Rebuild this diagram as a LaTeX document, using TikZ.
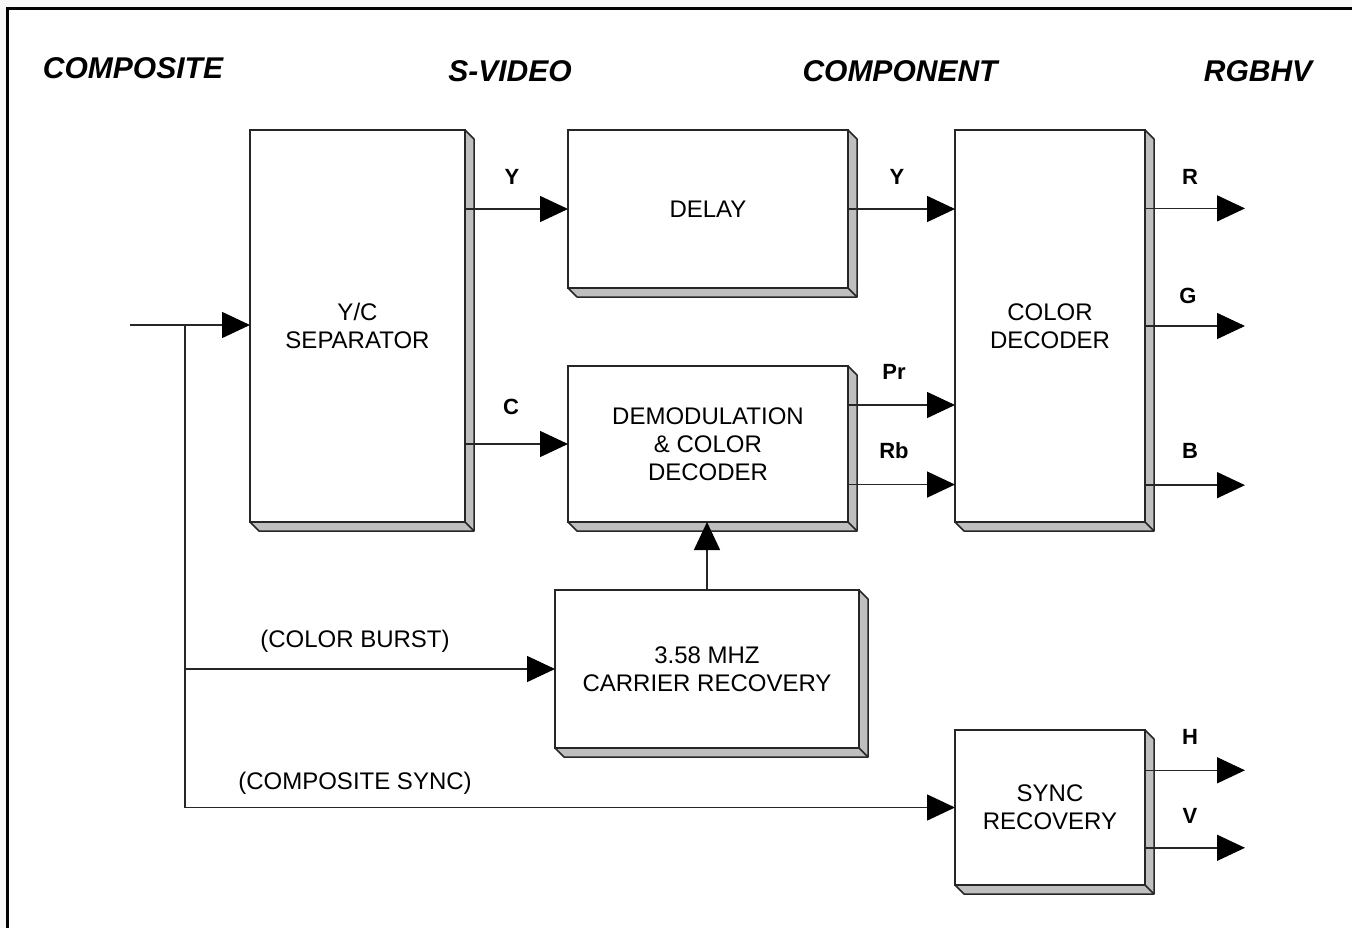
\documentclass[tikz,border=0pt]{standalone}
\usepackage{fontspec}
\setmainfont{Liberation Sans}
\usetikzlibrary{arrows.meta,calc}

% extruded right/bottom face of a block
\newcommand\extrude[1]{%
  \filldraw[face] (#1.north east) -- ++(9,9) -- ($(#1.south east)+(9,9)$)
    -- ($(#1.south west)+(9,9)$) -- (#1.south west) -- (#1.south east) -- cycle;
  \draw[face] (#1.south east) -- ++(9,9);}

\begin{document}
\begin{tikzpicture}[x=1pt,y=-1pt,
    every node/.style={font=\fontsize{24}{28}\selectfont},
    blk/.style={draw=black!85, line width=1.5pt, fill=white, align=center, inner sep=0pt, outer sep=0pt},
    face/.style={draw=black!85, line width=1.5pt, fill=gray!50, line join=round},
    sig/.style={-{Triangle[length=28pt,width=26pt,black]}, line width=1.5pt, draw=black!85},
    wire/.style={line width=1.5pt, draw=black!85},
    lbl/.style={font=\fontsize{22}{26}\selectfont\bfseries},
    head/.style={font=\fontsize{30}{36}\selectfont\bfseries\itshape}]
  \useasboundingbox (0,0) rectangle (1352,928);
  \fill[black!3] (0,0) rectangle (1352,928);
  \filldraw[fill=white, draw=black, line width=3pt] (7,9) rectangle (1370,950);

  % column headings
  \node[head] (hcomp) at (133,68) {COMPOSITE};
  \node[head] (hsvid) at (510,71) {S-VIDEO};
  \node[head] (hcomn) at (900,71) {COMPONENT};
  \node[head] (hrgb) at (1258,71) {RGBHV};

  % blocks
  \node[blk, minimum width=215pt, minimum height=392pt] (sep) at (357.5,326) {Y/C\\SEPARATOR};
  \node[blk, minimum width=280pt, minimum height=158pt] (delay) at (708,209) {DELAY};
  \node[blk, minimum width=280pt, minimum height=156pt] (demod) at (708,444) {DEMODULATION\\\& COLOR\\DECODER};
  \node[blk, minimum width=190pt, minimum height=392pt] (cdec) at (1050,326) {COLOR\\DECODER};
  \node[blk, minimum width=304pt, minimum height=158pt] (carrier) at (707,669) {3.58 MHZ\\CARRIER RECOVERY};
  \node[blk, minimum width=190pt, minimum height=155pt] (sync) at (1050,807.5) {SYNC\\RECOVERY};
  \foreach \b in {sep,delay,demod,cdec,carrier,sync} {\extrude{\b}}

  % composite input and taps
  \coordinate (in) at (130,325);
  \coordinate (tap) at (185,325);
  \draw[sig] (in) -- (in -| sep.west);
  \draw[wire] (tap) -- (tap |- sync.west);
  \draw[sig] (tap |- carrier.west) -- (carrier.west);
  \draw[sig] (tap |- sync.west) -- (sync.west);
  \node (lburst) at (355,641) {(COLOR BURST)};
  \node (lcsync) at (355,783) {(COMPOSITE SYNC)};

  % s-video
  \draw[sig] (sep.east |- delay.west) -- (delay.west);
  \draw[sig] (sep.east |- demod.west) -- (demod.west);
  \node[lbl] (ly1) at (512,177) {Y};
  \node[lbl] (lc) at (511,407) {C};
  \draw[sig] (carrier.north) -- (carrier.north |- demod.south);

  % component
  \coordinate (pr) at ($(demod.north east)!0.25!(demod.south east)$);
  \coordinate (rb) at ($(demod.north east)!0.76!(demod.south east)$);
  \draw[sig] (delay.east) -- (delay.east -| cdec.west);
  \draw[sig] (pr) -- (pr -| cdec.west);
  \draw[sig] (rb) -- (rb -| cdec.west);
  \node[lbl] (ly2) at (897,177) {Y};
  \node[lbl] (lpr) at (894,372) {Pr};
  \node[lbl] (lrb) at (894,451) {Rb};

  % rgbhv outputs
  \coordinate (or) at ($(cdec.north east)!0.2!(cdec.south east)$);
  \coordinate (og) at ($(cdec.north east)!0.5!(cdec.south east)$);
  \coordinate (ob) at ($(cdec.north east)!0.906!(cdec.south east)$);
  \coordinate (oh) at ($(sync.north east)!0.26!(sync.south east)$);
  \coordinate (ov) at ($(sync.north east)!0.76!(sync.south east)$);
  \foreach \o in {or,og,ob,oh,ov} {\draw[sig] (\o) -- ++(100,0);}
  \node[lbl] (lr) at (1190,177) {R};
  \node[lbl] (lg) at (1188,296) {G};
  \node[lbl] (lb) at (1190,451) {B};
  \node[lbl] (lh) at (1190,737) {H};
  \node[lbl] (lv) at (1190,816) {V};
\end{tikzpicture}
\end{document}
